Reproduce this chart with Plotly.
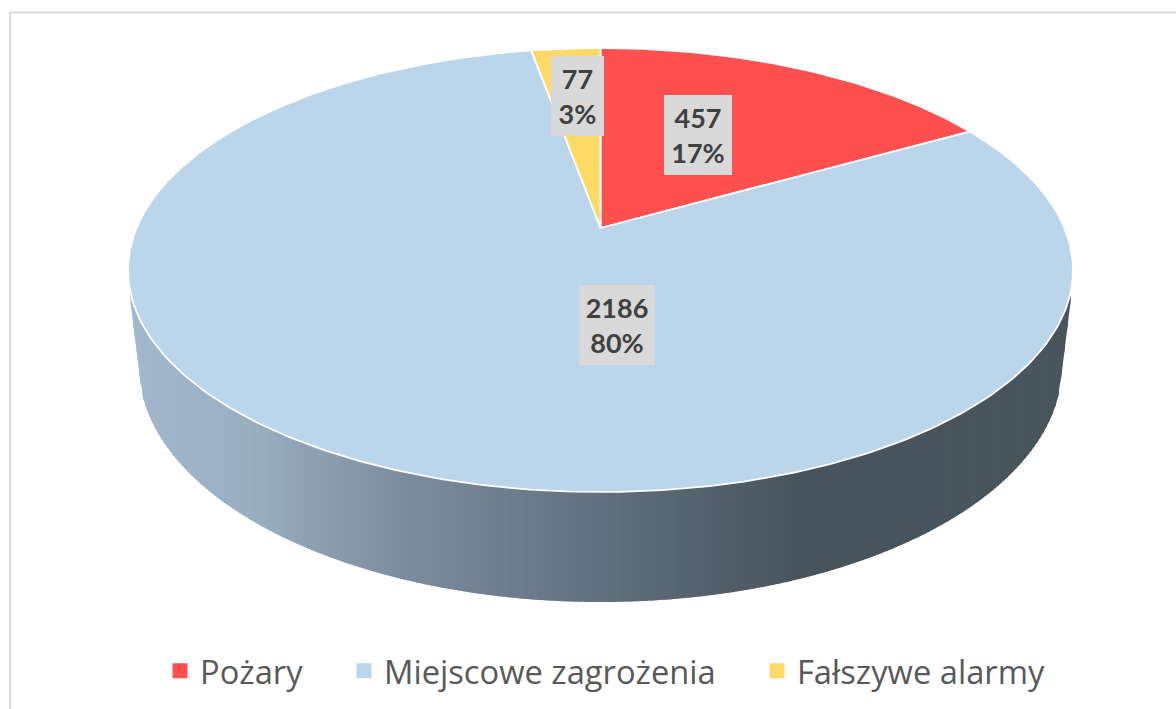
import numpy as np
import plotly.graph_objects as go

# ---- data ----
categories = ["Pożary", "Miejscowe zagrożenia", "Fałszywe alarmy"]
values = [457, 2186, 77]
slice_colors = ["#FF5050", "#BBD5EB", "#FFD966"]

# ---- drawing geometry (pixel-like axis units) ----
W, H = 1176, 709
CX, CY, RX, RY = 600.5, 270.0, 472.5, 222.0
APEX_SHIFT = 42.0 / 222.0          # perspective: the pie's centre sits above the ellipse's centre
LOW_CY, LOW_RX, LOW_RY = 365.0, 462.0, 237.0
KNEE_Y = 393.0
SHOULDER_Y = 298.0
label_boxes = {  # left, top, width, height
    "Pożary": (664, 95, 68, 80),
    "Miejscowe zagrożenia": (579, 285, 76, 80),
    "Fałszywe alarmy": (551, 56, 53, 80),
}
legend_left = [160, 344, 757]
legend_names = ["legend", "legend2", "legend3"]
wall_stops_x = [130, 250, 400, 600, 800, 1070]
wall_stops_rgb = [(162, 184, 205), (155, 175, 195), (125, 142, 160), (98, 113, 127), (72, 84, 93), (74, 86, 94)]


def project(theta):
    """Clockwise angle from 12 o'clock -> point on the tilted disc rim."""
    x, y = np.sin(theta), np.cos(theta)
    d = APEX_SHIFT
    den = 1 + y * d
    return CX + RX * x * np.sqrt(1 - d * d) / den, CY - RY * (y + d) / den


apex = (CX, CY - RY * APEX_SHIFT)
total = sum(values)
fig = go.Figure()


def low_edge(x):
    dx = np.abs(x - CX)
    knee_dx = LOW_RX * np.sqrt(max(0, 1 - ((KNEE_Y - LOW_CY) / LOW_RY) ** 2))
    if dx >= knee_dx:
        shoulder_dx = CX - 130
        return KNEE_Y + (SHOULDER_Y - KNEE_Y) * (dx - knee_dx) / (shoulder_dx - knee_dx)
    return LOW_CY + LOW_RY * np.sqrt(1 - (dx / LOW_RX) ** 2)


# side wall, a horizontal gradient of narrow overlapping strips
step = 3.0
XMIN, XMAX = 130.5, 1070.5
edges = np.arange(XMIN, XMAX + step, step)
for x0, x1 in zip(edges[:-1], edges[1:]):
    x1 = min(x1 + 1.5, XMAX)
    mid = (x0 + x1) / 2
    rgb = [np.interp(mid, wall_stops_x, [c[i] for c in wall_stops_rgb]) for i in range(3)]
    col = "rgb(%d,%d,%d)" % tuple(rgb)
    fig.add_trace(go.Scatter(
        x=[x0, x1, x1, x0, x0], y=[280, 280, low_edge(x1), low_edge(x0), 280],
        mode="lines", fill="toself", fillcolor=col, line=dict(width=0),
        hoverinfo="skip", showlegend=False))

# top face of the pie: one wedge per value, clockwise from 12 o'clock
start = 0.0
for name, v, c in zip(categories, values, slice_colors):
    sweep = 2 * np.pi * v / total
    t = np.linspace(start, start + sweep, max(12, int(v / total * 400)))
    px, py = project(t)
    fig.add_trace(go.Scatter(
        x=[apex[0], *px, apex[0]], y=[apex[1], *py, apex[1]],
        mode="lines", fill="toself", fillcolor=c, line=dict(color="white", width=1.8),
        name=name, hoverinfo="name", showlegend=False))
    start += sweep

# legend entries, one independently placed legend per category
for name, c, lg in zip(categories, slice_colors, legend_names):
    fig.add_trace(go.Scatter(x=[None], y=[None], mode="markers", name=name, legend=lg,
                             marker=dict(symbol="square", size=15, color=c)))

# value / percent labels
annotations = []
for name, v in zip(categories, values):
    l, t, w, h = label_boxes[name]
    annotations.append(dict(
        x=l, y=t, xref="x", yref="y", xanchor="left", yanchor="top",
        text=f"{v}<br>{round(v / total * 100)}%", showarrow=False,
        width=w, height=h, align="center", valign="middle",
        bgcolor="#D9D9D9", borderpad=0, borderwidth=0,
        font=dict(family="Lato", size=27, color="#404040", weight="bold")))

legend_style = dict(
    orientation="h", xanchor="left", y=10 / H, yanchor="bottom",
    font=dict(family="Open Sans", size=32.7, color="#595959"), itemwidth=30,
    bgcolor="rgba(0,0,0,0)")

fig.update_layout(
    width=W, height=H, margin=dict(l=0, r=0, t=0, b=0),
    paper_bgcolor="white", plot_bgcolor="white",
    xaxis=dict(range=[0, W], visible=False, fixedrange=True),
    yaxis=dict(range=[H, 0], visible=False, fixedrange=True),
    annotations=annotations,
    shapes=[dict(type="line", x0=10, x1=10, y0=12, y1=H, line=dict(color="#D9D9D9", width=2)),
            dict(type="line", x0=10, x1=W, y0=12.5, y1=12.5, line=dict(color="#D9D9D9", width=2))],
    legend=dict(x=legend_left[0] / W, **legend_style),
    legend2=dict(x=legend_left[1] / W, **legend_style),
    legend3=dict(x=legend_left[2] / W, **legend_style),
)
fig.write_html("out.html", config={"displayModeBar": False},
               post_script="document.body.style.margin='0';document.body.style.overflow='hidden';")
